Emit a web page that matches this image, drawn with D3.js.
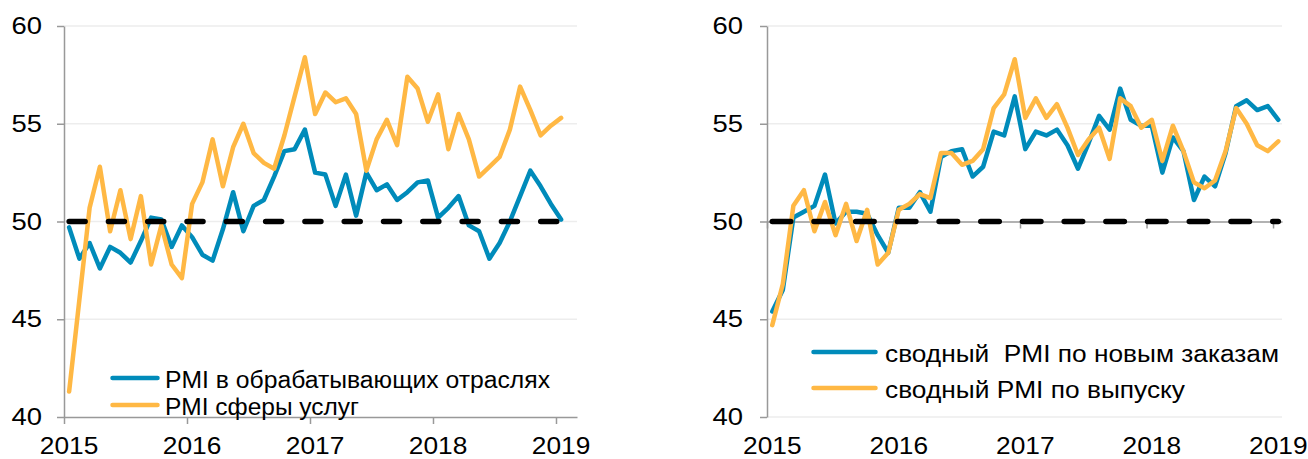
<!DOCTYPE html>
<html><head><meta charset="utf-8">
<script src="https://cdn.jsdelivr.net/npm/d3@7"></script>
<style>
body{margin:0;background:#fff;}
svg text{font-family:"Liberation Sans",Arial,sans-serif;fill:#000;}
</style>
</head><body>
<svg id="c" width="1308" height="459"></svg>
<script>
// ---- data (monthly, Jan 2015 – Jan 2019) ----
const yearLabels = ["2015","2016","2017","2018","2019"];
const yTicks = [40,45,50,55,60];
const threshold = 50;

const manufacturing = [49.7,48.1,48.9,47.6,48.7,48.4,47.9,49.0,50.2,50.1,
  48.7,49.8,49.2,48.3,48.0,49.6,51.5,49.5,50.8,51.1,
  52.3,53.6,53.7,54.7,52.5,52.4,50.8,52.4,50.3,52.5,
  51.6,51.9,51.1,51.5,52.0,52.1,50.2,50.7,51.3,49.8,
  49.5,48.1,48.9,50.0,51.3,52.6,51.8,50.9,50.1];
const services = [41.3,46.0,50.7,52.8,49.5,51.6,49.1,51.3,47.8,49.8,
  47.8,47.1,50.9,52.0,54.2,51.8,53.8,55.0,53.5,53.0,
  52.7,54.4,56.4,58.4,55.5,56.6,56.1,56.3,55.5,52.6,
  54.2,55.2,53.9,57.4,56.8,55.1,56.5,53.7,55.5,54.2,
  52.3,52.8,53.3,54.7,56.9,55.7,54.4,54.9,55.3];
const newOrders = [45.4,46.5,50.2,50.5,50.8,52.4,49.9,50.5,50.5,50.4,
  49.3,48.4,50.7,50.7,51.5,50.5,53.3,53.6,53.7,52.3,
  52.8,54.6,54.4,56.4,53.7,54.6,54.4,54.7,53.9,52.7,
  54.0,55.4,54.7,56.8,55.2,54.9,54.9,52.5,54.3,53.6,
  51.1,52.3,51.8,53.5,55.9,56.2,55.7,55.9,55.2];
const output = [44.7,46.8,50.8,51.6,49.5,51.0,49.3,50.9,49.0,50.6,
  47.8,48.4,50.6,50.9,51.4,51.2,53.5,53.5,52.9,53.1,
  53.7,55.8,56.5,58.3,55.3,56.3,55.3,56.0,54.8,53.4,
  54.2,54.8,53.2,56.3,55.9,54.8,55.2,53.1,54.9,53.6,
  52.0,51.7,52.1,53.6,55.8,55.0,53.9,53.6,54.1];

const legendLeft = ["PMI в обрабатывающих отраслях","PMI сферы услуг"];
const legendRight = ["сводный  PMI по новым заказам","сводный PMI по выпуску"];

const BLUE = "#008bba", ORANGE = "#ffb844", AXIS = "#999", GRID = "#ededed";
const FS = 23.5;
const svg = d3.select("#c");

function panel(o){
  const g = svg.append("g");
  const x = d3.scaleLinear().domain([0,o.extent]).range([o.left,o.right]);
  const y = d3.scaleLinear().domain([40,60]).range([417,26]);

  g.selectAll("line.grid").data(o.grid).join("line").attr("class","grid")
    .attr("x1",o.left).attr("x2",o.right)
    .attr("y1",d=>y(d)).attr("y2",d=>y(d))
    .attr("stroke",GRID).attr("stroke-width",1.5);

  const ya = g.append("g").attr("transform",`translate(${o.left},0)`)
    .call(d3.axisLeft(y).tickValues(yTicks).tickSize(7).tickPadding(o.yPad).tickSizeOuter(0));
  ya.selectAll("path,line").attr("stroke",AXIS).attr("stroke-width",1.5);
  ya.selectAll("text").attr("font-size",FS).style("font-family",'"Liberation Sans",Arial,sans-serif')
    .attr("fill","#000").attr("textLength",30.5).attr("lengthAdjust","spacingAndGlyphs");

  const xa = g.append("g").attr("transform",`translate(0,${y(o.xAxisAt)})`)
    .call(d3.axisBottom(x).tickValues([0,12,24,36,48]).tickSize(7).tickFormat("").tickSizeOuter(0));
  xa.selectAll("path,line").attr("stroke",AXIS).attr("stroke-width",1.5);

  g.selectAll("text.yr").data(yearLabels).join("text").attr("class","yr")
    .attr("x",(d,i)=>x(i*12+0.5)).attr("y",454).attr("text-anchor","middle")
    .attr("font-size",FS).attr("textLength",58.5).attr("lengthAdjust","spacingAndGlyphs")
    .text(d=>d);

  const line = d3.line().x((d,i)=>x(i+0.5)).y(d=>y(d));
  o.series.forEach(s=>{
    g.append("path").datum(s.values).attr("d",line).attr("fill","none")
      .attr("stroke",s.color).attr("stroke-width",4.5)
      .attr("stroke-linejoin","round").attr("stroke-linecap","round");
  });

  g.append("line").attr("x1",x(0.5)).attr("x2",x(48.5))
    .attr("y1",y(threshold)).attr("y2",y(threshold))
    .attr("stroke","#000").attr("stroke-width",5.5)
    .attr("stroke-linecap","round").attr("stroke-dasharray",o.dash);

  o.series.forEach((s,i)=>{
    const ly = o.legY + i*o.legGap;
    g.append("line").attr("x1",o.legX1).attr("x2",o.legX2).attr("y1",ly).attr("y2",ly)
      .attr("stroke",s.color).attr("stroke-width",4.5).attr("stroke-linecap","round");
    g.append("text").attr("x",o.legTX).attr("y",ly+9.5).attr("font-size",FS)
      .attr("textLength",s.len).attr("lengthAdjust","spacingAndGlyphs")
      .style("white-space","pre").text(s.label);
  });
}

panel({left:64,right:577,extent:50.05,xAxisAt:40,grid:[45,50,55,60],yPad:15,
  dash:"16,23.3",
  series:[{values:manufacturing,color:BLUE,label:legendLeft[0],len:385},
          {values:services,color:ORANGE,label:legendLeft[1],len:194}],
  legX1:112.5,legX2:157.5,legTX:165,legY:378,legGap:27});

panel({left:767,right:1282,extent:48.85,xAxisAt:50,grid:[40,45,55,60],yPad:17,
  dash:"18.5,23.2",
  series:[{values:newOrders,color:BLUE,label:legendRight[0],len:394},
          {values:output,color:ORANGE,label:legendRight[1],len:300}],
  legX1:813.5,legX2:875.5,legTX:885,legY:352,legGap:36});
</script>
</body></html>
